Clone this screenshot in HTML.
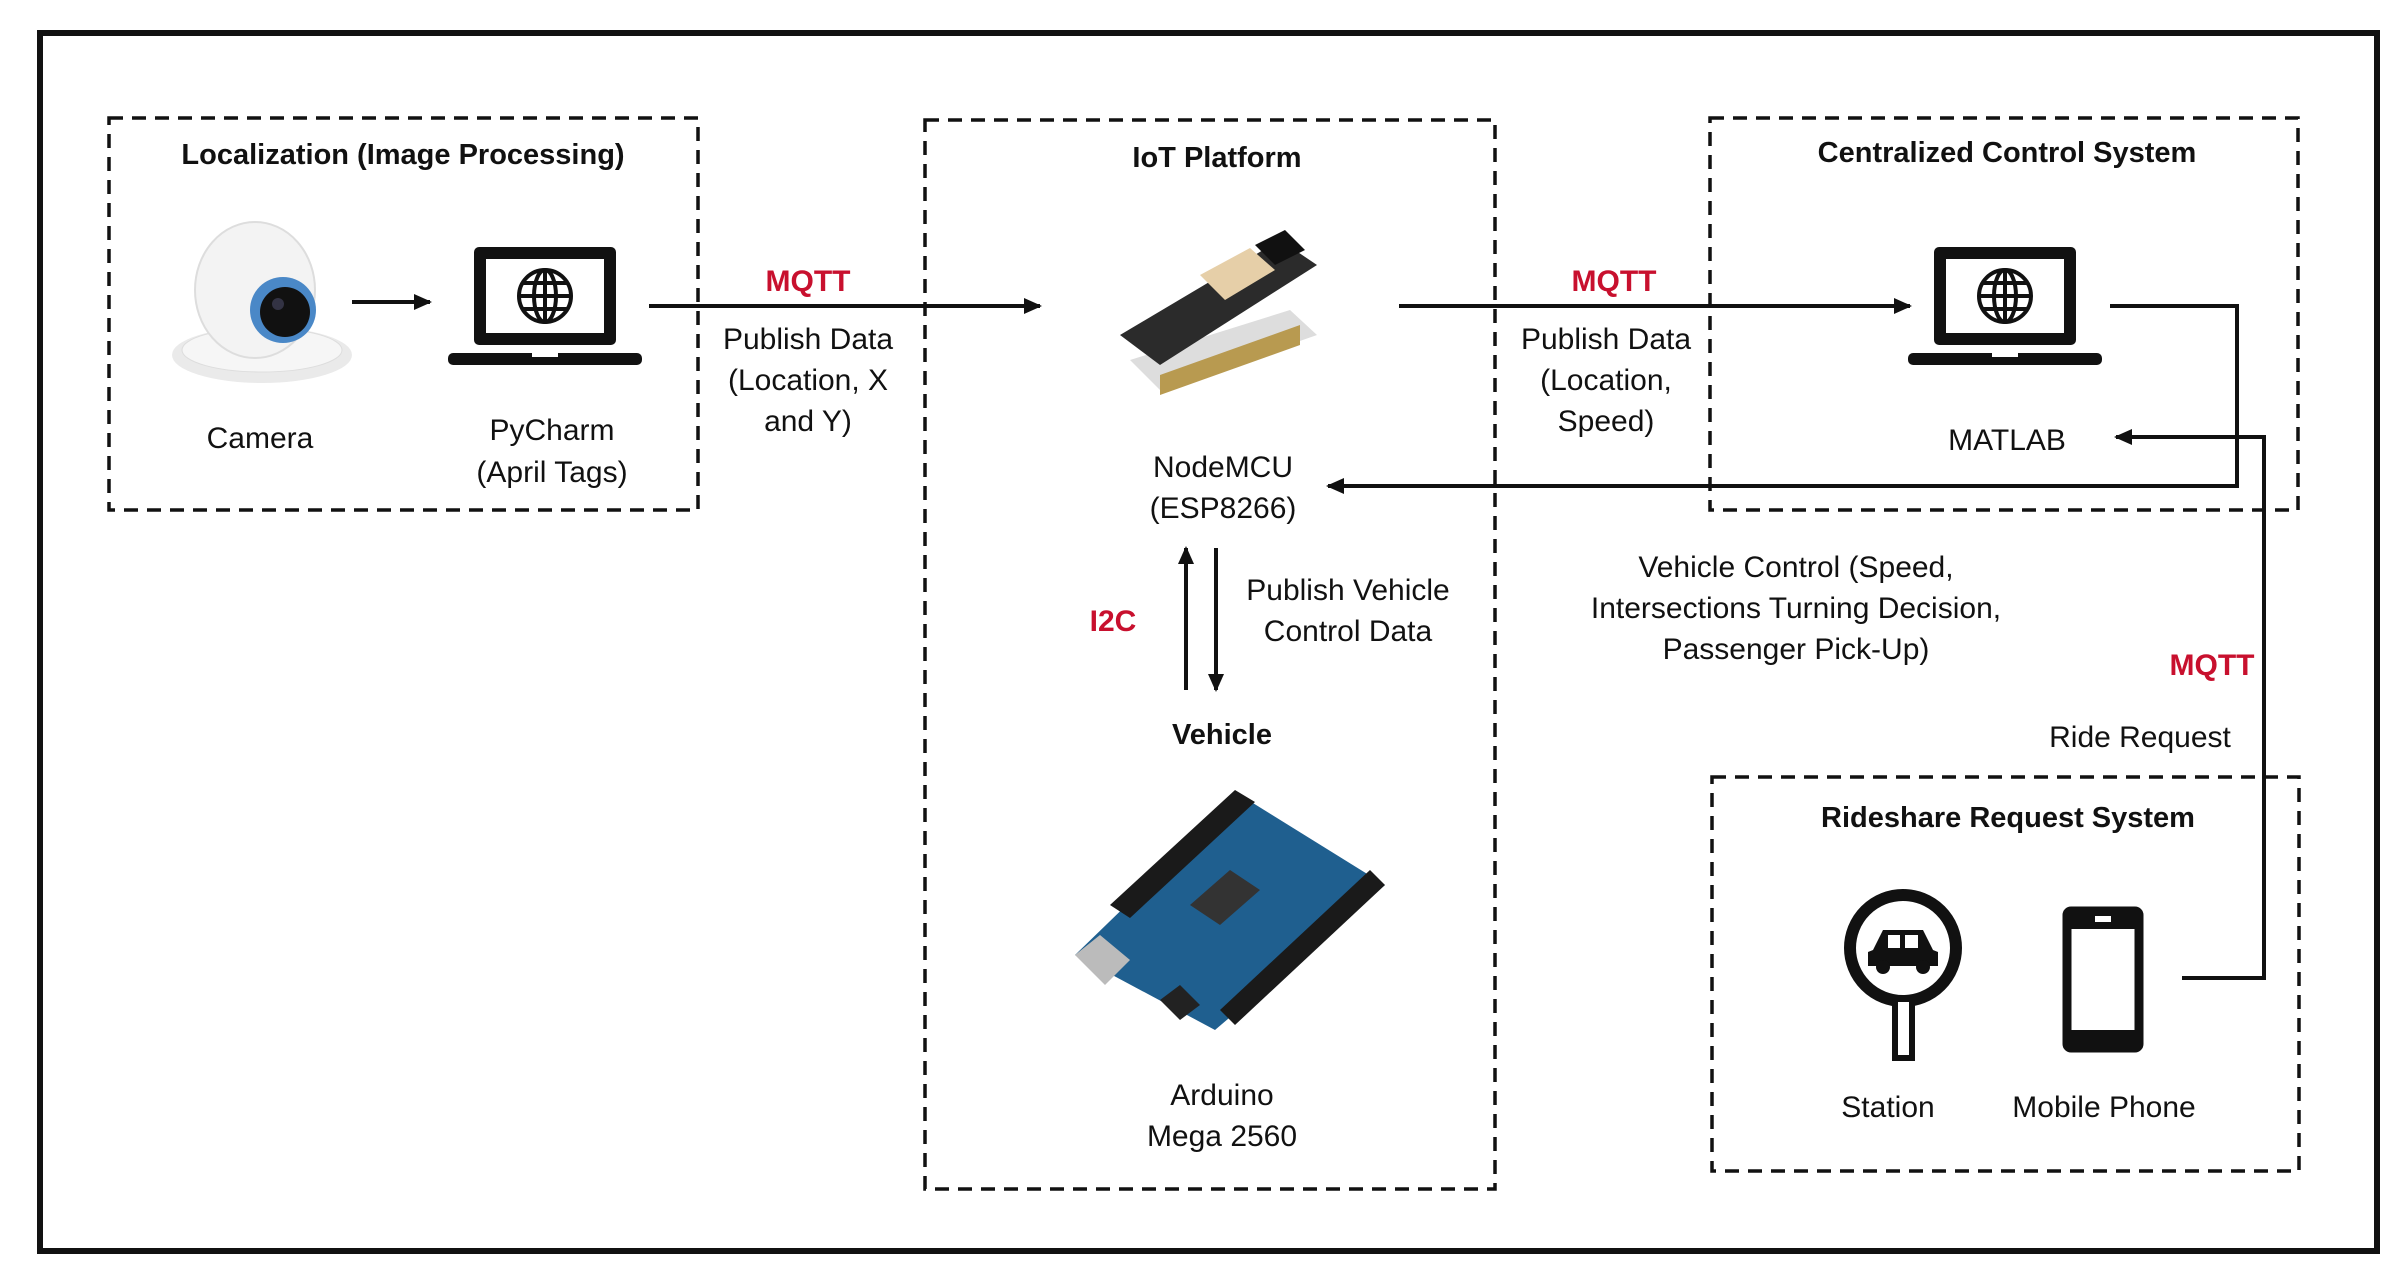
<!DOCTYPE html>
<html><head><meta charset="utf-8"><style>
html,body{margin:0;padding:0;background:#fff}
svg{display:block}
text{font-family:"Liberation Sans",Arial,sans-serif;fill:#111}
.t{font-size:30px;text-anchor:middle}
.b{font-size:29px;font-weight:bold;text-anchor:middle}
.r{font-size:30px;font-weight:bold;fill:#c8102e;text-anchor:middle}
.d{fill:none;stroke:#111;stroke-width:3.5;stroke-dasharray:14 9}
.l{fill:none;stroke:#111;stroke-width:4}
</style></head><body>
<svg width="2400" height="1279" viewBox="0 0 2400 1279" xmlns="http://www.w3.org/2000/svg">
<defs>
<marker id="a" markerWidth="10" markerHeight="10" refX="8" refY="5" orient="auto" markerUnits="userSpaceOnUse" viewBox="0 0 10 10"><path d="M0,0 L10,5 L0,10 z" fill="#111"/></marker>
<marker id="A" markerWidth="18" markerHeight="16" refX="16" refY="8" orient="auto" markerUnits="userSpaceOnUse"><path d="M0,0 L18,8 L0,16 z" fill="#111"/></marker>
<g id="lap">
<rect x="0" y="0" width="142" height="98" rx="5" fill="#111"/>
<rect x="12" y="12" width="118" height="74" fill="#fff"/>
<rect x="-26" y="106" width="194" height="12" rx="5" fill="#111"/>
<rect x="58" y="106" width="26" height="4" fill="#fff"/>
<g transform="translate(71,49)" fill="none" stroke="#111" stroke-width="4">
<circle r="26"/><ellipse rx="11" ry="26"/><line x1="-26" y1="0" x2="26" y2="0"/><line x1="0" y1="-26" x2="0" y2="26"/><line x1="-22" y1="-13" x2="22" y2="-13"/><line x1="-22" y1="13" x2="22" y2="13"/>
</g>
</g>
</defs>
<rect x="40" y="33" width="2337" height="1218" fill="none" stroke="#111" stroke-width="6"/>

<!-- boxes -->
<rect class="d" x="109" y="118" width="589" height="392"/>
<rect class="d" x="925" y="120" width="570" height="1069"/>
<rect class="d" x="1710" y="118" width="588" height="392"/>
<rect class="d" x="1712" y="777" width="587" height="394"/>

<!-- Localization -->
<text class="b" x="403" y="164">Localization (Image Processing)</text>
<g>
<ellipse cx="262" cy="355" rx="90" ry="28" fill="#eaeaea"/>
<ellipse cx="262" cy="350" rx="80" ry="22" fill="#f6f6f6" stroke="#ddd"/>
<ellipse cx="255" cy="290" rx="60" ry="68" fill="#f3f3f3" stroke="#ddd" stroke-width="2"/>
<circle cx="283" cy="310" r="33" fill="#4a88c7"/>
<circle cx="285" cy="312" r="25" fill="#111"/>
<circle cx="278" cy="304" r="6" fill="#334"/>
</g>
<line class="l" x1="352" y1="302" x2="430" y2="302" marker-end="url(#A)"/>
<use href="#lap" x="474" y="247"/>
<text class="t" x="260" y="448">Camera</text>
<text class="t" x="552" y="440">PyCharm</text>
<text class="t" x="552" y="482">(April Tags)</text>

<!-- MQTT 1 -->
<line class="l" x1="649" y1="306" x2="1040" y2="306" marker-end="url(#A)"/>
<text class="r" x="808" y="291">MQTT</text>
<text class="t" x="808" y="349">Publish Data</text>
<text class="t" x="808" y="390">(Location, X</text>
<text class="t" x="808" y="431">and Y)</text>

<!-- IoT -->
<text class="b" x="1217" y="167">IoT Platform</text>
<g>
<polygon points="1130,360 1290,310 1317,335 1160,390" fill="#ddd"/>
<polygon points="1160,375 1300,325 1300,345 1160,395" fill="#b89a50"/>
<polygon points="1120,335 1280,240 1317,265 1160,365" fill="#2b2b2b"/>
<polygon points="1200,275 1250,248 1275,270 1225,300" fill="#e6cfa8"/>
<polygon points="1255,245 1285,230 1305,250 1275,265" fill="#111"/>
</g>
<text class="t" x="1223" y="477">NodeMCU</text>
<text class="t" x="1223" y="518">(ESP8266)</text>
<line class="l" x1="1186" y1="690" x2="1186" y2="548" marker-end="url(#A)"/>
<line class="l" x1="1216" y1="548" x2="1216" y2="690" marker-end="url(#A)"/>
<text class="r" x="1113" y="631">I2C</text>
<text class="t" x="1348" y="600">Publish Vehicle</text>
<text class="t" x="1348" y="641">Control Data</text>
<text class="b" x="1222" y="744">Vehicle</text>
<g>
<polygon points="1075,955 1240,795 1385,885 1215,1030" fill="#1f5f8f"/>
<polygon points="1110,905 1235,790 1255,802 1130,918" fill="#1a1a1a"/>
<polygon points="1220,1010 1370,870 1385,885 1235,1025" fill="#1a1a1a"/>
<polygon points="1190,905 1230,870 1260,890 1220,925" fill="#333"/>
<polygon points="1075,955 1100,935 1130,960 1105,985" fill="#bbb"/>
<polygon points="1160,1000 1180,985 1200,1005 1180,1020" fill="#222"/>
</g>
<text class="t" x="1222" y="1105">Arduino</text>
<text class="t" x="1222" y="1146">Mega 2560</text>

<!-- MQTT 2 -->
<line class="l" x1="1399" y1="306" x2="1910" y2="306" marker-end="url(#A)"/>
<text class="r" x="1614" y="291">MQTT</text>
<text class="t" x="1606" y="349">Publish Data</text>
<text class="t" x="1606" y="390">(Location,</text>
<text class="t" x="1606" y="431">Speed)</text>

<!-- Centralized -->
<text class="b" x="2007" y="162">Centralized Control System</text>
<use href="#lap" x="1934" y="247"/>
<text class="t" x="2007" y="450">MATLAB</text>
<polyline class="l" points="2110,306 2237,306 2237,486 1328,486" marker-end="url(#A)"/>
<text class="t" x="1796" y="577">Vehicle Control (Speed,</text>
<text class="t" x="1796" y="618">Intersections Turning Decision,</text>
<text class="t" x="1796" y="659">Passenger Pick-Up)</text>

<polyline class="l" points="2182,978 2264,978 2264,437 2116,437" marker-end="url(#A)"/>
<text class="r" x="2212" y="675">MQTT</text>
<text class="t" x="2140" y="747">Ride Request</text>

<!-- Rideshare -->
<text class="b" x="2008" y="827">Rideshare Request System</text>
<circle cx="1903" cy="948" r="53" fill="none" stroke="#111" stroke-width="12"/>
<rect x="1895" y="999" width="17" height="59" fill="#fff" stroke="#111" stroke-width="6"/>
<g fill="#111">
<path d="M1873,950 L1883,930 L1923,930 L1933,950 L1938,952 L1938,966 L1868,966 L1868,952 Z"/>
<circle cx="1883" cy="967" r="7"/><circle cx="1923" cy="967" r="7"/>
<rect x="1888" y="935" width="12" height="13" fill="#fff"/><rect x="1905" y="935" width="13" height="13" fill="#fff"/>
</g>
<rect x="2067" y="911" width="72" height="137" rx="4" fill="none" stroke="#111" stroke-width="9"/>
<rect x="2067" y="1030" width="72" height="20" fill="#111"/>
<rect x="2067" y="911" width="72" height="18" fill="#111"/>
<rect x="2095" y="916" width="16" height="6" fill="#fff"/>
<text class="t" x="1888" y="1117">Station</text>
<text class="t" x="2104" y="1117">Mobile Phone</text>
</svg>
</body></html>
